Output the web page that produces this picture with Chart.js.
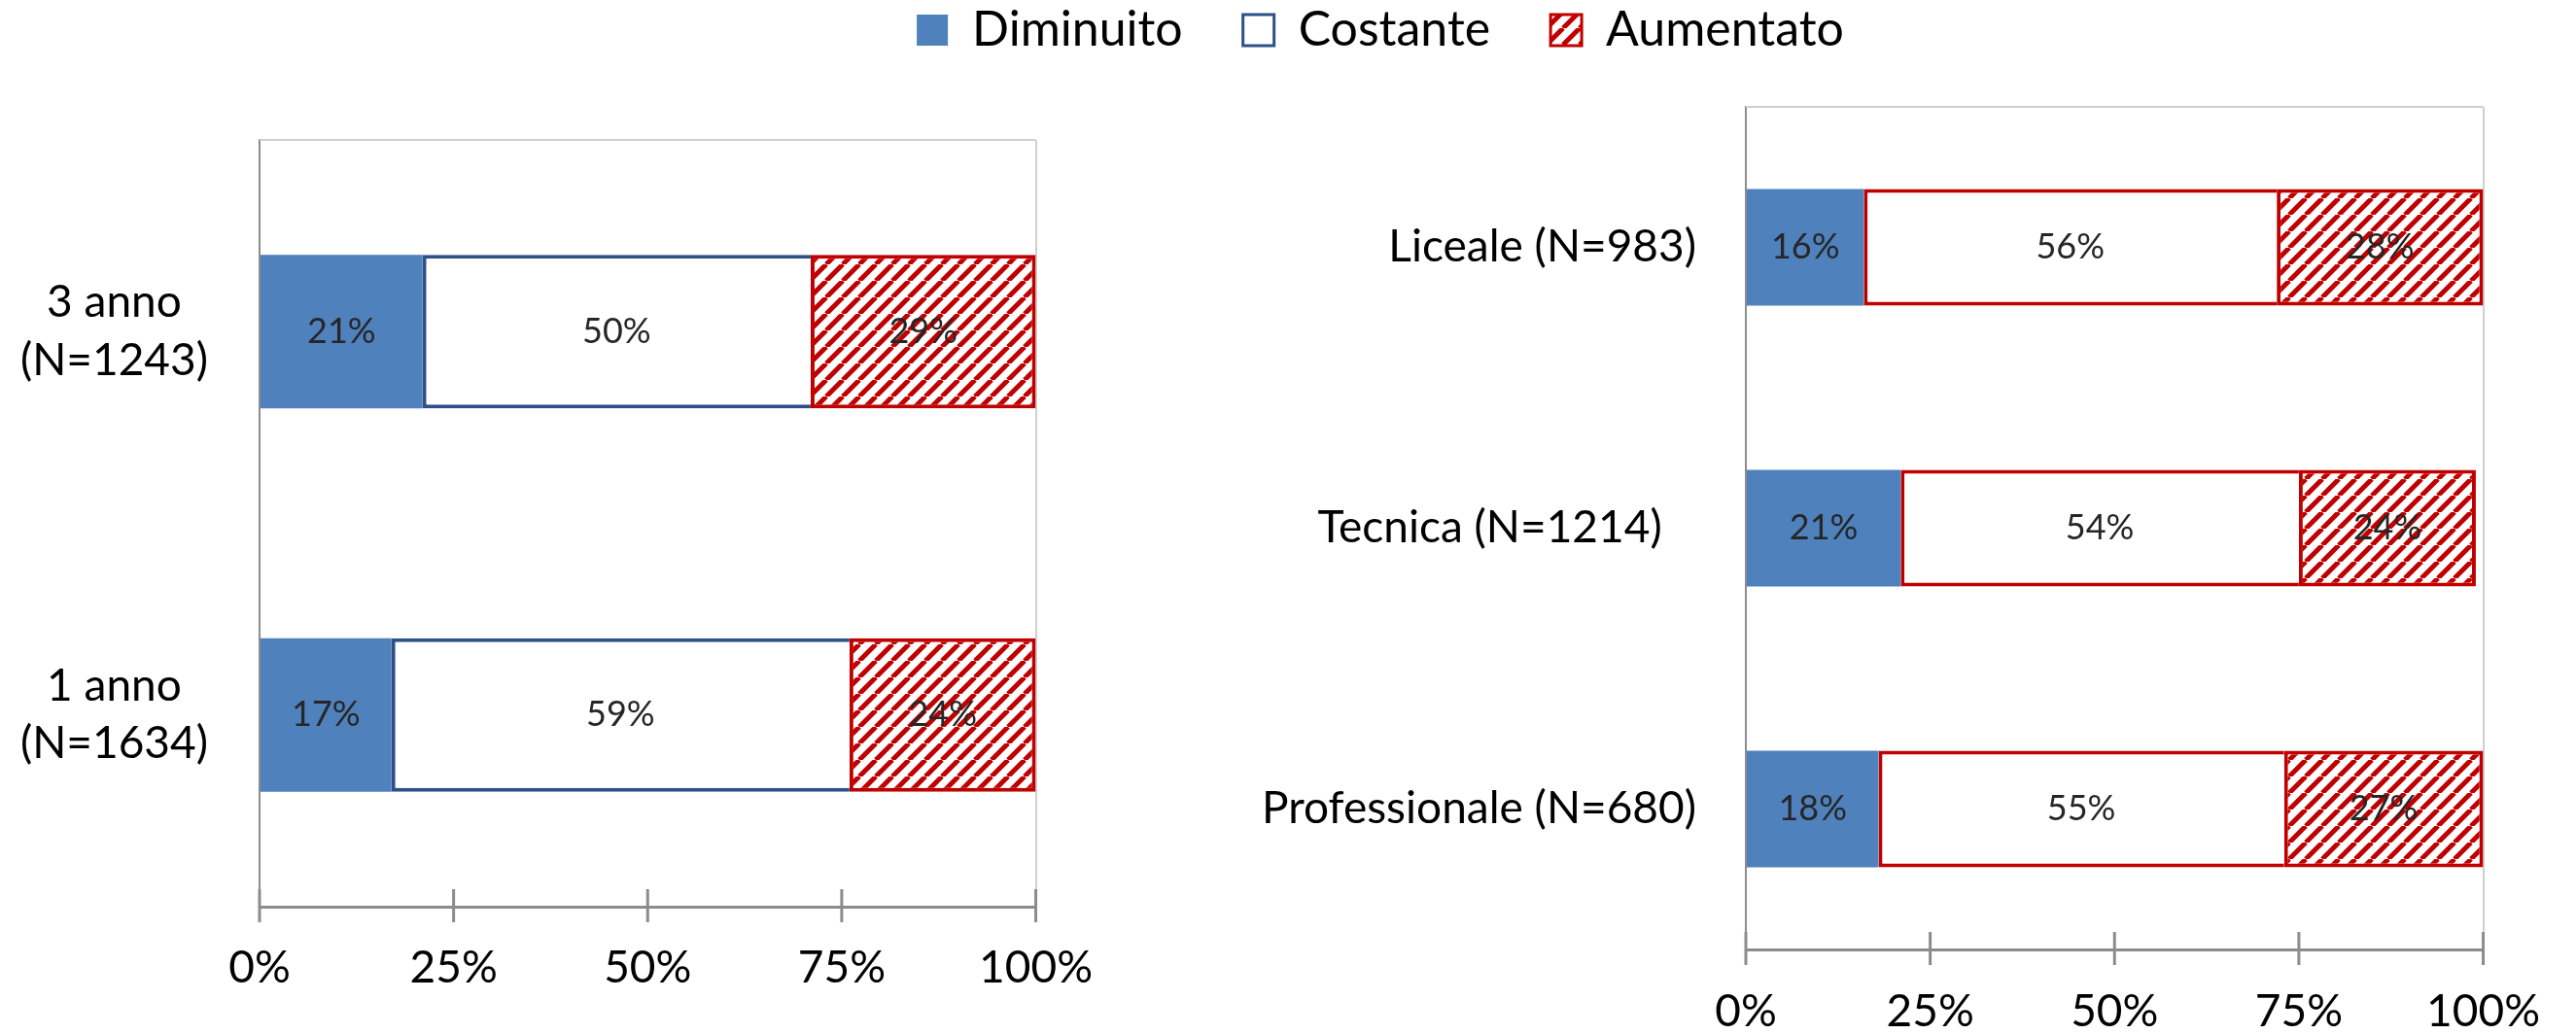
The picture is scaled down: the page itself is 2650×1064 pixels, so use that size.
<!DOCTYPE html>
<html>
<head>
<meta charset="utf-8">
<script src="https://cdn.jsdelivr.net/npm/chart.js@4.4.0/dist/chart.umd.min.js"></script>
<style>
  html, body { margin: 0; padding: 0; background: #fff; overflow: hidden; }
  body { width: 2650px; height: 1064px; position: relative; }
  canvas { position: absolute; }
</style>
</head>
<body>
<canvas id="left" width="1160" height="1064" style="left:0;top:0"></canvas>
<canvas id="right" width="1400" height="1064" style="left:1250px;top:0"></canvas>
<canvas id="legend" width="2480" height="170" style="left:180px;top:-56px"></canvas>
<script>
var seriesNames = ['Diminuito', 'Costante', 'Aumentato']

// left chart: by year
var yearLabels = [['3 anno', '(N=1243)'], ['1 anno', '(N=1634)']]
var yearDiminuito = [21, 17]
var yearCostante = [50, 59]
var yearAumentato = [29, 24]

// right chart: by school type
var schoolLabels = ['Liceale (N=983)', 'Tecnica (N=1214)   ', 'Professionale (N=680)']
var schoolDiminuito = [16, 21, 18]
var schoolCostante = [56, 54, 55]
var schoolAumentato = [28, 24, 27]

var xTicks = [0, 25, 50, 75, 100]

var blue = '#4F81BD'
var navy = '#2E5088'
var red = '#C00000'

Chart.defaults.font.family = 'Lato, "Open Sans", sans-serif'
Chart.defaults.color = '#000'

function hatch(color) {
    let size = 17
    let c = document.createElement('canvas')
    c.width = size
    c.height = size
    let g = c.getContext('2d')
    g.fillStyle = '#fff'
    g.fillRect(0, 0, size, size)
    g.strokeStyle = color
    g.lineWidth = 5
    g.beginPath()
    for (let k = -1; k <= 1; k++) {
        g.moveTo(k * size, size)
        g.lineTo(k * size + size, 0)
    }
    g.stroke()
    return g.createPattern(c, 'repeat')
}

// percent labels in the middle of each bar
var barLabels = {
    id: 'barLabels',
    afterDatasetsDraw(chart) {
        let ctx = chart.ctx
        ctx.save()
        ctx.font = '36px Lato'
        ctx.fillStyle = '#262626'
        ctx.textAlign = 'center'
        ctx.textBaseline = 'middle'
        chart.data.datasets.forEach((ds, i) => {
            chart.getDatasetMeta(i).data.forEach((bar, j) => {
                let p = bar.getCenterPoint()
                ctx.fillText(ds.data[j] + '%', p.x, p.y)
            })
        })
        ctx.restore()
    }
}

// top border of plot area and tick marks crossing the x axis
var frame = {
    id: 'frame',
    afterDraw(chart) {
        let ctx = chart.ctx
        let a = chart.chartArea
        let x = chart.scales.x
        ctx.save()
        ctx.strokeStyle = '#CFCFCF'
        ctx.lineWidth = 2
        ctx.beginPath()
        ctx.moveTo(a.left, a.top)
        ctx.lineTo(a.right, a.top)
        ctx.stroke()
        ctx.strokeStyle = '#8C8C8C'
        ctx.lineWidth = 3
        ctx.beginPath()
        x.ticks.forEach((t, i) => {
            let px = x.getPixelForTick(i)
            ctx.moveTo(px, a.bottom - 18)
            ctx.lineTo(px, a.bottom + 16)
        })
        ctx.stroke()
        ctx.restore()
    }
}

function makeChart(id, labels, values, opts) {
    return new Chart(document.getElementById(id), {
        type: 'bar',
        data: {
            labels: labels,
            datasets: [
                { label: seriesNames[0], data: values[0], backgroundColor: blue, borderWidth: 0 },
                { label: seriesNames[1], data: values[1], backgroundColor: '#fff', borderColor: opts.costBorder, borderWidth: 4, borderSkipped: 'end' },
                { label: seriesNames[2], data: values[2], backgroundColor: hatch(red), borderColor: red, borderWidth: 4, borderSkipped: false }
            ]
        },
        options: {
            indexAxis: 'y',
            responsive: false,
            animation: false,
            layout: { padding: opts.padding },
            datasets: { bar: { categoryPercentage: 1, barPercentage: opts.bar } },
            plugins: { legend: { display: false }, tooltip: { enabled: false } },
            scales: {
                x: {
                    stacked: true,
                    min: 0,
                    max: 100,
                    afterBuildTicks: s => { s.ticks = xTicks.map(v => ({ value: v })) },
                    afterFit: s => { s.height = opts.xHeight },
                    grid: {
                        drawTicks: false,
                        lineWidth: 2,
                        color: c => (c.tick && c.tick.value === 100) ? '#CFCFCF' : 'transparent'
                    },
                    border: { color: '#8C8C8C', width: 3 },
                    ticks: {
                        padding: opts.xPad,
                        color: '#000',
                        font: { size: 46, lineHeight: 1.2 },
                        callback: v => v + '%'
                    }
                },
                y: {
                    stacked: true,
                    afterFit: s => { s.width = opts.yWidth },
                    grid: { display: false, drawTicks: false },
                    border: { color: '#8C8C8C', width: 2 },
                    ticks: {
                        padding: opts.yPad,
                        crossAlign: opts.align,
                        color: '#000',
                        font: { size: 46, lineHeight: 1.3 }
                    }
                }
            }
        },
        plugins: [barLabels, frame]
    })
}

makeChart('left', yearLabels, [yearDiminuito, yearCostante, yearAumentato], {
    padding: { top: 144, right: 70, bottom: 0, left: 0 },
    xHeight: 131, xPad: 36, yWidth: 267, yPad: 53,
    align: 'center', bar: 0.4, costBorder: navy
})

makeChart('right', schoolLabels, [schoolDiminuito, schoolCostante, schoolAumentato], {
    padding: { top: 110, right: 67, bottom: 0, left: 0 },
    xHeight: 87, xPad: 37, yWidth: 546, yPad: 51,
    align: 'near', bar: 0.415, costBorder: red
})

// shared legend across both panels
new Chart(document.getElementById('legend'), {
    type: 'bar',
    data: {
        labels: [],
        datasets: [
            { label: seriesNames[0], data: [], backgroundColor: blue, borderColor: blue, borderWidth: 0 },
            { label: seriesNames[1], data: [], backgroundColor: '#fff', borderColor: navy, borderWidth: 3 },
            { label: seriesNames[2], data: [], backgroundColor: hatch(red), borderColor: red, borderWidth: 3 }
        ]
    },
    options: {
        responsive: false,
        animation: false,
        scales: { x: { display: false }, y: { display: false } },
        plugins: {
            tooltip: { enabled: false },
            legend: {
                display: true,
                position: 'top',
                maxHeight: 300,
                labels: { boxWidth: 32, boxHeight: 32, padding: 62, color: '#000', font: { size: 50 } }
            }
        }
    }
})
</script>
</body>
</html>
